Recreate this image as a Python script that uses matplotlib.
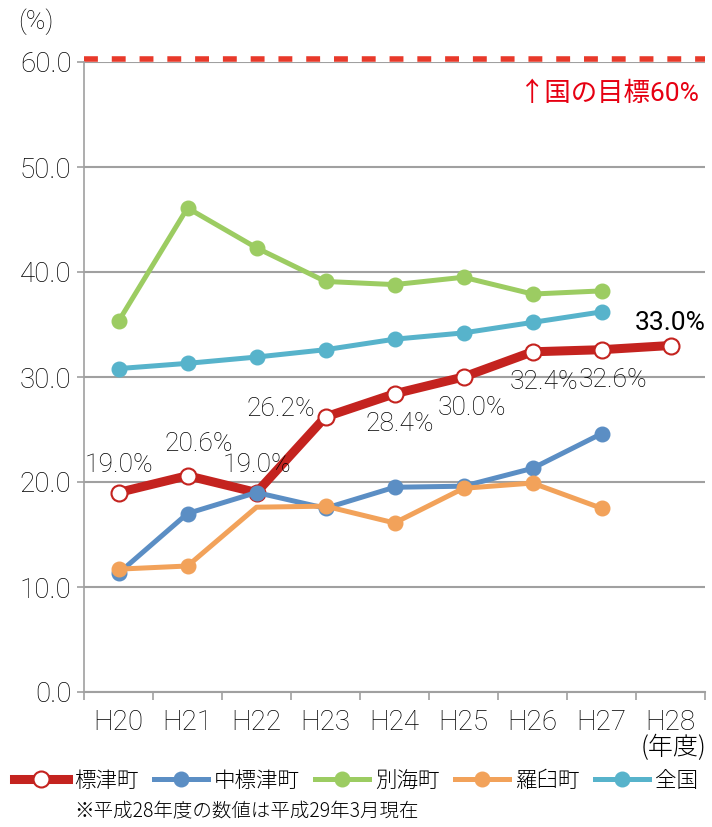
import numpy as np
import matplotlib
matplotlib.use('Agg')
import matplotlib.pyplot as plt

plt.rcParams['font.family'] = ['Roboto', 'Noto Sans CJK JP', 'DejaVu Sans']
plt.rcParams['font.weight'] = 'light'

years = ['H20', 'H21', 'H22', 'H23', 'H24', 'H25', 'H26', 'H27', 'H28']
shibetsu = [19.0, 20.6, 19.0, 26.2, 28.4, 30.0, 32.4, 32.6, 33.0]
nakashibetsu = [11.3, 17.0, 19.0, 17.5, 19.5, 19.6, 21.3, 24.6]
betsukai = [35.3, 46.1, 42.3, 39.1, 38.8, 39.5, 37.9, 38.2]
rausu = [11.7, 12.0, 17.6, 17.7, 16.1, 19.4, 19.9, 17.5]
zenkoku = [30.8, 31.3, 31.9, 32.6, 33.6, 34.2, 35.2, 36.2]
names = ['標津町', '中標津町', '別海町', '羅臼町', '全国']
target = 60.0

red = '#c4231f'
blue = '#5b8ec4'
green = '#9ccc62'
orange = '#f2a25a'
cyan = '#57b3cb'
grid = '#a0a0a0'
jp = ['Noto Sans CJK JP', 'DejaVu Sans']

fig = plt.figure(figsize=(7.12, 8.27), dpi=100)
ax = fig.add_axes([84/712, 1-692/827, (705-84)/712, (692-62)/827])

x = np.arange(len(years))
l1, = ax.plot(x, shibetsu, color=red, lw=6.5, marker='o', ms=11.5, mfc='white',
              mec=red, mew=1.5, zorder=3, label=names[0])
l2, = ax.plot(x[:8], nakashibetsu, color=blue, lw=3.6, marker='o', ms=10.5, zorder=4, label=names[1])
l3, = ax.plot(x[:8], betsukai, color=green, lw=3.6, marker='o', ms=10.5, zorder=4, label=names[2])
l4, = ax.plot(x[:8], rausu, color=orange, lw=3.6, marker='o', ms=10.5, zorder=5,
              markevery=[0, 1, 3, 4, 5, 6, 7], label=names[3])
l5, = ax.plot(x[:8], zenkoku, color=cyan, lw=3.6, marker='o', ms=10.5, zorder=4, label=names[4])

# data labels for 標津町
offs = [(0, 20), (8, 23), (0, 20), (-32, 6), (4, -22), (6, -22), (8, -22), (8, -22), (0, 16)]
for i, v in enumerate(shibetsu):
    ax.annotate(f'{v:.1f}%', (x[i], v), xytext=offs[i], textcoords='offset points',
                ha='center', va='center', fontsize=19, color='black',
                fontweight='normal' if i == 8 else 'light', zorder=6)

ax.set_xlim(-0.5, 8.5)
ax.set_ylim(0, 60)
ax.set_yticks(np.arange(0, 61, 10))
ax.set_yticklabels([f'{v:.1f}' for v in np.arange(0, 61, 10)], fontsize=20)
ax.set_xticks(x)
ax.set_xticklabels(years, fontsize=20)
ax.set_xticks(np.arange(-0.5, 8.6, 1), minor=True)
ax.tick_params(axis='x', which='major', length=0, pad=12)
ax.tick_params(axis='x', which='minor', length=6, color=grid, width=1.2, direction='out')
ax.tick_params(axis='y', length=5, color=grid, width=1.2, pad=4)
ax.yaxis.grid(True, color=grid, lw=1.5)
for s in ['top', 'right']:
    ax.spines[s].set_visible(False)
ax.spines['left'].set_color(grid)
ax.spines['bottom'].set_color(grid)
ax.spines['left'].set_linewidth(1.2)
ax.spines['bottom'].set_linewidth(1.5)

ax.axhline(target + 0.25, color='#e8392a', lw=4, ls=(0, (2.5, 2.5)), clip_on=False, zorder=2)
ax.text(8.43, 57.0, '↑国の目標60%', color='#e60012', fontsize=19, ha='right', va='center',
        fontweight='normal', family=['Roboto', 'Noto Sans CJK JP', 'DejaVu Sans'])

fig.text(18/712, 1-22/827, '(%)', fontsize=19, ha='left', va='center')
fig.text(706/712, 1-748/827, '(年度)', fontsize=18, ha='right', va='center', family=jp)

fig.legend(handles=[l1, l2, l3, l4, l5], loc='center', bbox_to_anchor=(0.5, 1-781/827),
           ncol=5, frameon=False, handlelength=2.5, handletextpad=0.3, borderpad=0,
           borderaxespad=0, columnspacing=0.7, prop={'family': jp, 'size': 15.5})
fig.text(74/712, 1-812/827, '※平成28年度の数値は平成29年3月現在', fontsize=14, ha='left', va='center',
         family=jp)

fig.savefig('out.png', dpi=100)
